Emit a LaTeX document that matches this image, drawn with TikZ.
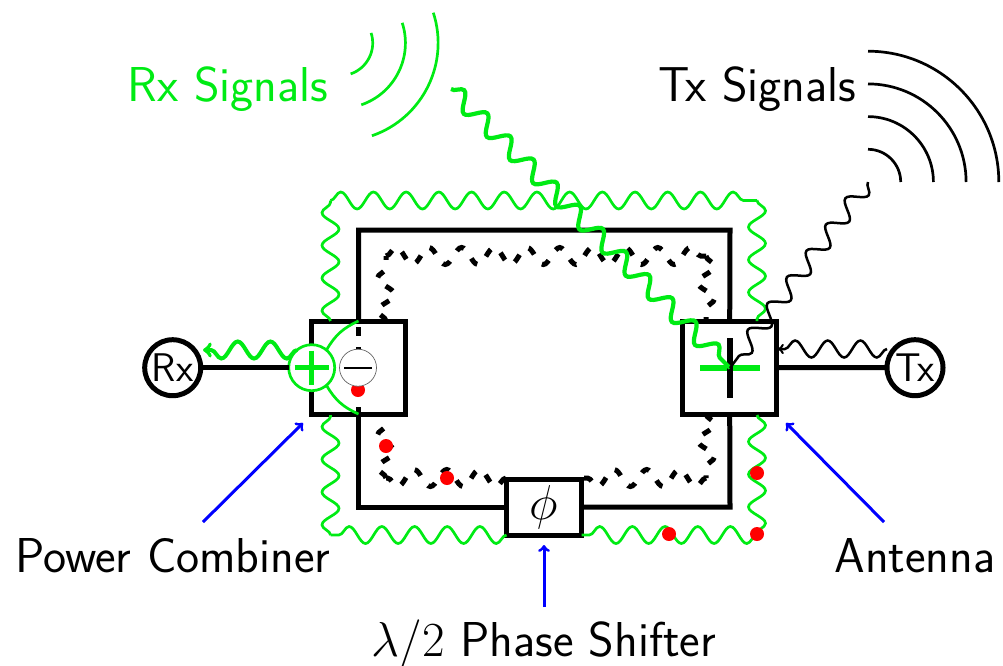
\documentclass[tikz,border=0pt]{standalone}
\usepackage{fix-cm}
\usepackage{fontspec}
\usetikzlibrary{decorations.pathmorphing,calc}
\definecolor{grn}{RGB}{0,235,20}
\tikzset{
  base/.style={font=\sffamily\fontsize{49}{53}\selectfont},
  lab/.style={base,inner sep=0pt},
  term/.style={circle,draw=black,fill=white,line width=5pt,minimum size=56pt,inner sep=0pt,outer sep=0pt,font=\sffamily\fontsize{40}{44}\selectfont},
  boxn/.style={rectangle,draw=black,fill=white,line width=5pt,minimum width=94pt,minimum height=93pt,outer sep=0pt},
  wire/.style={line width=5pt,draw=black},
  dot/.style={circle,fill=red,minimum size=14pt,inner sep=0pt,outer sep=0pt},
  wv/.style={decoration={snake,segment length=32.7pt,amplitude=8.5pt}},
  gthin/.style={draw=grn,line width=2.7pt,wv},
  gthick/.style={draw=grn,line width=4.2pt,wv},
  kthin/.style={draw=black,line width=2.5pt,wv},
  kdash/.style={draw=black,line width=5pt,wv,dash pattern=on 8.5pt off 12.5pt},
  blu/.style={draw=blue,line width=3pt,->},
}
\begin{document}
\begin{tikzpicture}[x=1pt,y=-1pt]
\useasboundingbox (0,0) rectangle (1003,665);
% coordinates
\coordinate (rTL) at (358.5,230);
\coordinate (rTR) at (730,230);
\coordinate (rBL) at (358.5,507);
\coordinate (rBR) at (730,507);
\coordinate (gTL) at (330.5,200.5);
\coordinate (gTR) at (757,200.5);
\coordinate (gBL) at (330.5,535);
\coordinate (gBR) at (757,535);
\coordinate (gLu) at (330.5,321);
\coordinate (gLd) at (330.5,415);
\coordinate (gRu) at (757,321);
\coordinate (gRd) at (757,415);
\coordinate (dLu) at (386,321);
\coordinate (dLd) at (386,414);
\coordinate (dRu) at (706,321);
\coordinate (dRd) at (706,414);
\coordinate (dTL) at (386,256);
\coordinate (dTR) at (706,256);
\coordinate (dBL) at (386,478);
\coordinate (dBR) at (706,478);
\coordinate (dPl) at (506,478);
\coordinate (dPr) at (582,478);
\coordinate (rxS) at (451,89);
\coordinate (txS) at (868,182);
\coordinate (rxA) at (203,350);
\coordinate (rxB) at (297,350);
\coordinate (txA) at (778,349);
\coordinate (txB) at (887,349);
\coordinate (a1) at (203,522);
\coordinate (a1e) at (303,423);
\coordinate (a2) at (884,522);
\coordinate (a2e) at (786,423);
\coordinate (a3) at (544,607);
\coordinate (a3e) at (544,545);
\coordinate (cH1) at (700,368);
\coordinate (cH2) at (760,368);
\coordinate (cV1) at (730,338);
\coordinate (cV2) at (730,398);
\coordinate (cC) at (730,368);
% wires
\node[boxn] (lbox) at (358.5,367.5) {};
\node[boxn] (rbox) at (729.7,367.5) {};
\node[boxn,minimum width=75pt,minimum height=56pt,font=\fontsize{49}{53}\selectfont] (pbox) at (544,507) {$\phi$};
\draw[wire] (lbox.north) -- (rTL) -- (rTR) -- (rbox.north);
\draw[wire] (lbox.south) -- (rBL) -- (pbox.west);
\draw[wire] (pbox.east) -- (rBR) -- (rbox.south);
% dashed wavy
\draw[kdash] decorate {(dLu) -- (dTL)} decorate {(dTL) -- (dTR)} decorate {(dTR) -- (dRu)};
\draw[kdash] decorate {(dPl) -- (dBL)} decorate {(dBL) -- (dLd)};
\draw[kdash] decorate {(dRd) -- (dBR)} decorate {(dBR) -- (dPr)};
% green thin wavy
\draw[gthin] decorate {(gLu) -- (gTL)} decorate {(gTL) -- (gTR)} decorate {(gTR) -- (gRu)};
\draw[gthin] decorate {(pbox.south west) -- (gBL)} decorate {(gBL) -- (gLd)};
\draw[gthin] decorate {(gRd) -- (gBR)} decorate {(gBR) -- (pbox.south east)};
% terminals
\node[term] (rx) at (172.7,367.7) {Rx};
\node[term] (tx) at (915,367.7) {Tx};
\node[circle,draw=grn,fill=white,line width=2.7pt,minimum size=46pt,inner sep=0pt,outer sep=0pt] (plus) at (311.7,367.7) {};
\draw[wire] (rx) -- (plus);
\draw[wire] (rbox.east) -- (tx);
\draw[line width=5pt,draw=black,dash pattern=on 9pt off 11pt,dash phase=14pt] (lbox.north) -- (lbox.south);
\draw[grn,line width=2.7pt] (lbox.north) to[bend right=18] (plus.50);
\draw[grn,line width=2.7pt] (lbox.south) to[bend left=18] (plus.-50);
\draw[grn,line width=4.5pt] ($(plus)+(-17,0)$) -- ($(plus)+(17,0)$);
\draw[grn,line width=4.5pt] ($(plus)+(0,-17)$) -- ($(plus)+(0,17)$);
% red dots
\node[dot] (d1) at (358,390) {};
\node[dot] (d2) at (386,446) {};
\node[dot] (d3) at (447,478) {};
\node[dot] (d4) at (669,534) {};
\node[dot] (d5) at (757,534) {};
\node[dot] (d6) at (757,473) {};
% minus
\node[circle,draw=black!60,fill=white,line width=.7pt,minimum size=37pt,inner sep=0pt,outer sep=0pt] (minus) at (358,367.7) {};
\draw[black,line width=1.6pt] ($(minus)+(-14,0)$) -- ($(minus)+(14,0)$);
% antenna cross
\draw[grn,line width=6pt] (cH1) -- (cH2);
\draw[black,line width=6pt] (cV1) -- (cV2);
% signals
\draw[gthick] decorate {(rxS) -- (cC)};
\draw[kthin] decorate {(txS) -- (cC)};
\draw[gthick,line width=4pt,->] decorate {(rxB) -- (rxA)};
\draw[kthin,->] decorate {(txB) -- (txA)};
% arcs
\draw[black,line width=2.7pt] (868,149.3) arc[start angle=90,end angle=0,radius=32.7pt];
\draw[black,line width=2.7pt] (868,116.6) arc[start angle=90,end angle=0,radius=65.4pt];
\draw[black,line width=2.7pt] (868,83.9) arc[start angle=90,end angle=0,radius=98.1pt];
\draw[black,line width=2.7pt] (868,51.2) arc[start angle=90,end angle=0,radius=130.8pt];
\draw[grn,line width=2.7pt] (340,43) ++(18:32.7pt) arc[start angle=18,end angle=-71,radius=32.7pt];
\draw[grn,line width=2.7pt] (340,43) ++(18:65.4pt) arc[start angle=18,end angle=-71,radius=65.4pt];
\draw[grn,line width=2.7pt] (340,43) ++(18:98.1pt) arc[start angle=18,end angle=-71,radius=98.1pt];
% labels
\node[lab,text=grn] (lrx) at (228,89) {Rx Signals};
\node[lab] (ltx) at (757,89) {Tx Signals};
\node[lab] (lpc) at (173,556) {Power Combiner};
\node[lab] (lan) at (915,556) {Antenna};
\node[lab] (lph) at (544,644.5) {$\lambda/2$ Phase Shifter};
\draw[blu] (a1) -- (a1e);
\draw[blu] (a2) -- (a2e);
\draw[blu] (a3) -- (a3e);
\end{tikzpicture}
\end{document}
